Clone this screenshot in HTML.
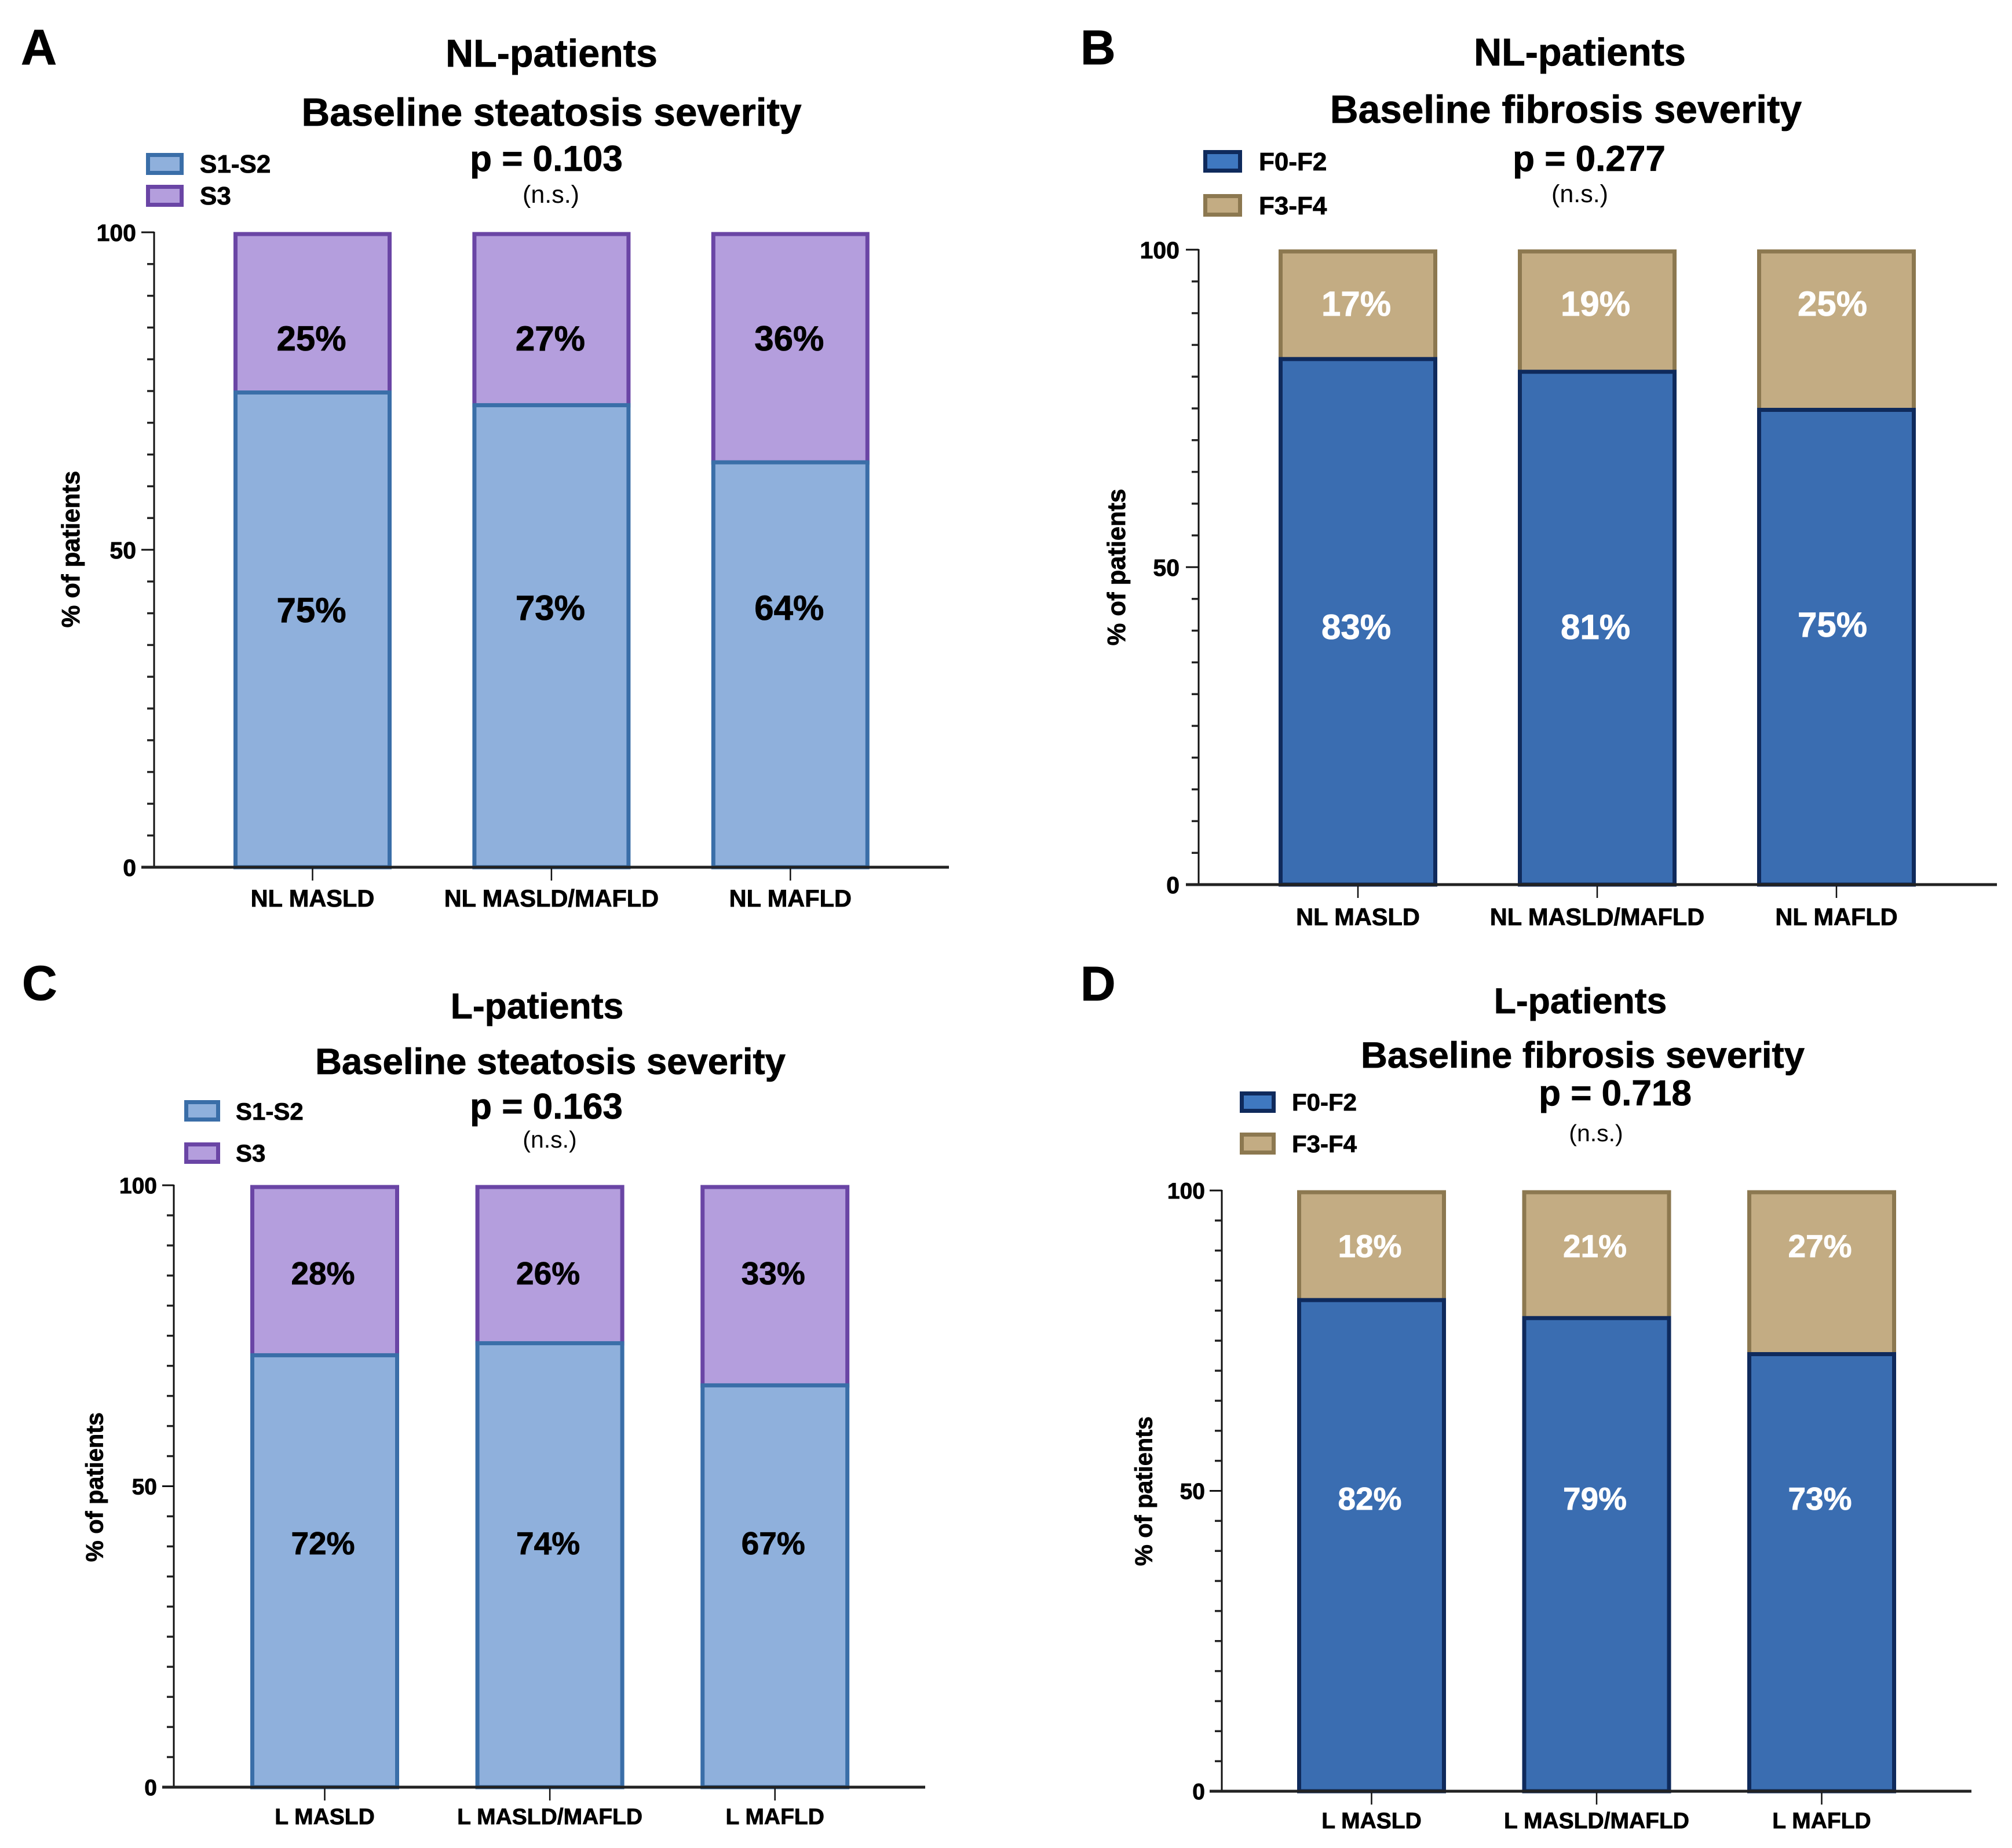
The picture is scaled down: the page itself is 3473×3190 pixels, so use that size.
<!DOCTYPE html>
<html lang="en">
<head>
<meta charset="utf-8">
<title>Baseline steatosis and fibrosis severity</title>
<style>
html,body{margin:0;padding:0;background:#fff;}
svg{display:block;}
text{font-family:"Liberation Sans",Arial,sans-serif;font-weight:700;fill:#000;stroke:#000;stroke-width:0.8px;}
.ns{font-weight:400;stroke:none;}
</style>
</head>
<body>
<svg id="figure" xmlns="http://www.w3.org/2000/svg" width="3473" height="3190" viewBox="0 0 3473 3190">
<rect x="0" y="0" width="3473" height="3190" fill="#ffffff"/>

<g>
<text x="36" y="111" font-size="86">A</text>
<text x="952" y="115" font-size="66.5" text-anchor="middle">NL-patients</text>
<text x="952" y="217" font-size="67.5" text-anchor="middle">Baseline steatosis severity</text>
<text x="943" y="295" font-size="62" text-anchor="middle">p = 0.103</text>
<text class="ns" x="951" y="350" font-size="43" text-anchor="middle">(n.s.)</text>
<rect x="255.5" y="267.5" width="58" height="31" fill="#8FB0DC" stroke="#3A6EA8" stroke-width="7"/>
<text x="345" y="298" font-size="44">S1-S2</text>
<rect x="255.5" y="322.5" width="58" height="31" fill="#B49EDD" stroke="#6A45A5" stroke-width="7"/>
<text x="345" y="353" font-size="44">S3</text>
</g>

<g>
<text x="1865" y="111" font-size="84">B</text>
<text x="2727" y="113" font-size="66.5" text-anchor="middle">NL-patients</text>
<text x="2703" y="212" font-size="67.5" text-anchor="middle">Baseline fibrosis severity</text>
<text x="2743" y="295" font-size="62" text-anchor="middle">p = 0.277</text>
<text class="ns" x="2727" y="349" font-size="43" text-anchor="middle">(n.s.)</text>
<rect x="2080.5" y="262.5" width="60" height="32" fill="#3F78C0" stroke="#0F2A5C" stroke-width="7"/>
<text x="2173" y="294" font-size="44">F0-F2</text>
<rect x="2080.5" y="338.5" width="60" height="32" fill="#C3AC83" stroke="#8C7850" stroke-width="7"/>
<text x="2173" y="370" font-size="44">F3-F4</text>
</g>

<g>
<text x="38" y="1726" font-size="84">C</text>
<text x="927" y="1758" font-size="62.5" text-anchor="middle">L-patients</text>
<text x="950" y="1854" font-size="63.5" text-anchor="middle">Baseline steatosis severity</text>
<text x="943" y="1931" font-size="62" text-anchor="middle">p = 0.163</text>
<text class="ns" x="949" y="1981" font-size="41" text-anchor="middle">(n.s.)</text>
<rect x="321.5" y="1902.5" width="55" height="30" fill="#8FB0DC" stroke="#3A6EA8" stroke-width="7"/>
<text x="407" y="1933" font-size="42">S1-S2</text>
<rect x="321.5" y="1975.5" width="55" height="30" fill="#B49EDD" stroke="#6A45A5" stroke-width="7"/>
<text x="407" y="2005" font-size="42">S3</text>
</g>

<g>
<text x="1865" y="1727" font-size="84">D</text>
<text x="2728" y="1749" font-size="62.5" text-anchor="middle">L-patients</text>
<text x="2732" y="1843" font-size="63.5" text-anchor="middle">Baseline fibrosis severity</text>
<text x="2788" y="1908" font-size="62" text-anchor="middle">p = 0.718</text>
<text class="ns" x="2755" y="1970" font-size="41" text-anchor="middle">(n.s.)</text>
<rect x="2143.5" y="1887.5" width="55" height="30" fill="#3F78C0" stroke="#0F2A5C" stroke-width="7"/>
<text x="2230" y="1917" font-size="42">F0-F2</text>
<rect x="2143.5" y="1958.5" width="55" height="31" fill="#C3AC83" stroke="#8C7850" stroke-width="7"/>
<text x="2230" y="1989" font-size="42">F3-F4</text>
</g>
</svg>

<script>
// ---- chart data ----
const yTickLabels = [0, 50, 100];
const yMinorStep = 5;
const yAxisTitle = '% of patients';

const categoriesA = ['NL MASLD', 'NL MASLD/MAFLD', 'NL MAFLD'];
const lowerValuesA = [75, 73, 64];
const upperValuesA = [25, 27, 36];

const categoriesB = ['NL MASLD', 'NL MASLD/MAFLD', 'NL MAFLD'];
const lowerValuesB = [83, 81, 75];
const upperValuesB = [17, 19, 25];

const categoriesC = ['L MASLD', 'L MASLD/MAFLD', 'L MAFLD'];
const lowerValuesC = [72, 74, 67];
const upperValuesC = [28, 26, 33];

const categoriesD = ['L MASLD', 'L MASLD/MAFLD', 'L MAFLD'];
const lowerValuesD = [82, 79, 73];
const upperValuesD = [18, 21, 27];

// ---- palettes ----
const steatosisStyle = {lowerFill:'#8FB0DC', lowerStroke:'#3A6EA8', upperFill:'#B49EDD', upperStroke:'#6A45A5', labelColor:'#000000', lowerName:'s1-s2', upperName:'s3'};
const fibrosisStyle = {lowerFill:'#3A6DB1', lowerStroke:'#0F2A5C', upperFill:'#C3AC83', upperStroke:'#8C7850', labelColor:'#ffffff', lowerName:'f0-f2', upperName:'f3-f4'};

// ---- panel frames (pixel layout lives here, values live above) ----
const panels = [
  {id:'a', cats:categoriesA, lower:lowerValuesA, upper:upperValuesA, style:steatosisStyle,
   axisX:266, axisStart:244, axisEnd:1638, y0:1497, y100:401, barLeft:403, barStep:412.4, barW:273,
   tickLabelRight:235, tickFont:41, catFont:41.5, catBaseline:1565, titleX:124, titleY:948, titleFont:43.5,
   labelFont:60, upperLabelY:605, lowerLabelY:1074, labelShift:-2, lastLabelsUp:4, lastLabelsLeft:0},
  {id:'b', cats:categoriesB, lower:lowerValuesB, upper:upperValuesB, style:fibrosisStyle,
   axisX:2069, axisStart:2047, axisEnd:3447, y0:1527, y100:431, barLeft:2207, barStep:413, barW:274,
   tickLabelRight:2036, tickFont:41, catFont:41.5, catBaseline:1597, titleX:1929, titleY:979, titleFont:43.5,
   labelFont:60, upperLabelY:545, lowerLabelY:1103, labelShift:-3, lastLabelsUp:4, lastLabelsLeft:4},
  {id:'c', cats:categoriesC, lower:lowerValuesC, upper:upperValuesC, style:steatosisStyle,
   axisX:300, axisStart:280, axisEnd:1597, y0:3085, y100:2046, barLeft:432, barStep:388.6, barW:257,
   tickLabelRight:271, tickFont:39, catFont:39, catBaseline:3149, titleX:165, titleY:2567, titleFont:41.5,
   labelFont:55, upperLabelY:2217, lowerLabelY:2683, labelShift:-3, lastLabelsUp:0, lastLabelsLeft:0},
  {id:'d', cats:categoriesD, lower:lowerValuesD, upper:upperValuesD, style:fibrosisStyle,
   axisX:2109, axisStart:2088, axisEnd:3403, y0:3092, y100:2055, barLeft:2239, barStep:388.5, barW:257,
   tickLabelRight:2080, tickFont:39, catFont:39, catBaseline:3156, titleX:1976, titleY:2574, titleFont:41.5,
   labelFont:55, upperLabelY:2170, lowerLabelY:2606, labelShift:-3, lastLabelsUp:0, lastLabelsLeft:0}
];

const SVG_NS = 'http://www.w3.org/2000/svg';
const figure = document.getElementById('figure');

function make(parent, tag, attrs, content) {
  const el = document.createElementNS(SVG_NS, tag);
  for (const key in attrs) el.setAttribute(key, attrs[key]);
  if (content !== undefined) el.textContent = content;
  parent.appendChild(el);
  return el;
}

function drawPanel(p) {
  const yScale = function (v) { return p.y0 - (v / 100) * (p.y0 - p.y100); };
  const xBand = function (i) { return p.barLeft + i * p.barStep; };
  const xCenter = function (i) { return xBand(i) + p.barW / 2; };
  const barStroke = 7;

  const group = make(figure, 'g', {});
  
  

  // stacked bars: upper first so the lower segment's cap sits on top
  p.cats.forEach(function (cat, i) {
    const x = xBand(i) + barStroke / 2;
    const w = p.barW - barStroke;
    const split = p.lower[i];
    const total = p.lower[i] + p.upper[i];
    const labelStyle = 'fill:' + p.style.labelColor + ';stroke:' + p.style.labelColor;
    const isLast = i === p.cats.length - 1;
    const upShift = i > 0 && p.id === 'a' ? p.lastLabelsUp : (isLast ? p.lastLabelsUp : 0);
    const leftShift = isLast ? p.lastLabelsLeft : 0;

    const upperBar = make(group, 'rect', {
      x: x, y: yScale(total) + barStroke / 2 - 0.5, width: w,
      height: Math.max(0, yScale(split) - yScale(total)),
      fill: p.style.upperFill, stroke: p.style.upperStroke, 'stroke-width': barStroke
    });
    
    

    const lowerBar = make(group, 'rect', {
      x: x, y: yScale(split) + barStroke / 2 - 1, width: w,
      height: Math.max(0, p.y0 - yScale(split) - barStroke / 2 + 1),
      fill: p.style.lowerFill, stroke: p.style.lowerStroke, 'stroke-width': barStroke
    });
    
    

    const upperLabel = make(group, 'text', {
      x: xCenter(i) + p.labelShift - leftShift, y: p.upperLabelY, 'text-anchor': 'middle',
      'font-size': p.labelFont, style: labelStyle
    }, p.upper[i] + '%');
    
    

    const lowerLabel = make(group, 'text', {
      x: xCenter(i) + p.labelShift - leftShift, y: p.lowerLabelY - upShift, 'text-anchor': 'middle',
      'font-size': p.labelFont, style: labelStyle
    }, p.lower[i] + '%');
    
    

    const xTick = make(group, 'line', {
      x1: xCenter(i), x2: xCenter(i), y1: p.y0, y2: p.y0 + 23, stroke: '#111', 'stroke-width': 2.5
    });
    
    

    const catLabel = make(group, 'text', {
      x: xCenter(i), y: p.catBaseline, 'text-anchor': 'middle', 'font-size': p.catFont
    }, cat);
    
    
  });

  // y axis line
  const yAxis = make(group, 'line', {
    x1: p.axisX, x2: p.axisX, y1: p.y100 - 1, y2: p.y0, stroke: '#111', 'stroke-width': 3
  });
  
  

  // minor ticks
  for (let v = 0; v <= 100; v += yMinorStep) {
    if (yTickLabels.indexOf(v) >= 0) continue;
    const minor = make(group, 'line', {
      x1: p.axisX - 12, x2: p.axisX, y1: yScale(v), y2: yScale(v), stroke: '#222', 'stroke-width': 3.5
    });
    
    
  }

  // major ticks + labels
  yTickLabels.forEach(function (v) {
    const major = make(group, 'line', {
      x1: p.axisStart, x2: p.axisX, y1: yScale(v), y2: yScale(v), stroke: '#111', 'stroke-width': 3
    });
    
    

    const label = make(group, 'text', {
      x: p.tickLabelRight, y: yScale(v) + p.tickFont * 0.36, 'text-anchor': 'end', 'font-size': p.tickFont
    }, String(v));
    
    
  });

  // x axis line
  const xAxis = make(group, 'line', {
    x1: p.axisStart, x2: p.axisEnd, y1: p.y0, y2: p.y0, stroke: '#222', 'stroke-width': 5
  });
  
  

  // y axis title
  const yTitle = make(group, 'text', {
    x: 0, y: 0, 'text-anchor': 'middle', 'font-size': p.titleFont,
    transform: 'translate(' + (p.titleX + p.titleFont * 0.3) + ',' + p.titleY + ') rotate(-90)'
  }, yAxisTitle);
  
  
}

panels.forEach(drawPanel);
</script>
</body>
</html>
